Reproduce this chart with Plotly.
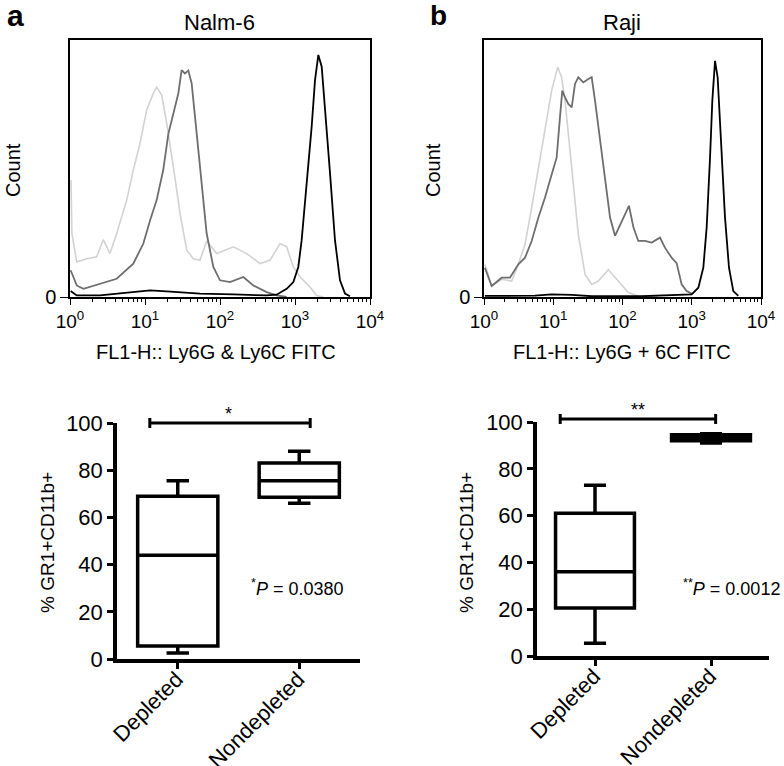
import plotly.graph_objects as go

W, H = 784, 766
FONT = "Liberation Sans, Arial, Helvetica, sans-serif"

# ---------------- Histogram data (FL1-H intensity, relative count) ----------------
# Panel a: Nalm-6
a_light_x = [1.03, 1.06, 1.23, 1.67, 2.27, 2.78, 3.41, 4.19, 5.70, 6.98, 8.57, 10.5, 12.9, 14.3, 16.7,
             19.5, 23.9, 29.3, 36.0, 44.1, 54.1, 66.4, 90.4, 151, 227, 341, 464, 631, 774, 951, 1167,
             1585, 1945, 2388]
a_light_y = [45.5, 24.7, 13.6, 14.9, 15.6, 22.3, 16.9, 24.7, 37.7, 49.4, 59.7, 72.7, 79.2, 81.6, 78.6,
             67.5, 50.6, 32.5, 18.2, 14.9, 14.3, 21.8, 16.9, 19.5, 16.9, 13.0, 14.3, 20.8, 19.5, 11.7,
             7.8, 3.9, 0.6, 0.0]
a_dark_x = [1.02, 1.23, 1.51, 2.51, 4.19, 6.98, 9.51, 11.7, 14.3, 17.5, 20.5, 23.9, 27.8, 30.8, 34.1,
            37.8, 41.9, 48.9, 57.0, 66.4, 81.5, 100, 136, 205, 278, 419, 570, 774]
a_dark_y = [10.4, 4.5, 3.2, 5.2, 7.1, 13.0, 20.8, 29.9, 37.7, 49.4, 63.6, 71.4, 79.2, 88.3, 87.0,
            88.1, 83.1, 63.6, 44.2, 24.7, 11.7, 6.5, 5.8, 7.8, 4.5, 1.9, 0.6, 0.0]
a_black_x = [1.02, 1.23, 2.51, 6.98, 11.7, 19.5, 54.1, 151, 419, 570, 774, 951, 1107, 1227, 1432,
             1667, 1849, 2047, 2270, 2512, 2931, 3412, 3981, 4645, 5408]
a_black_y = [2.3, 0.6, 0.6, 1.9, 2.6, 2.2, 1.3, 1.0, 0.6, 0.9, 3.2, 5.8, 11.7, 22.1, 42.9,
             66.2, 84.4, 94.2, 89.6, 74.0, 48.1, 22.1, 6.5, 1.3, 0.3]

# Panel b: Raji
b_light_x = [1.03, 1.29, 1.80, 2.51, 3.13, 3.91, 4.88, 6.10, 7.60, 9.48, 11.6, 13.2, 14.8, 18.5, 23.0,
             28.8, 35.9, 44.8, 62.4, 87.1, 121, 169, 329]
b_light_y = [12.7, 4.3, 6.9, 6.2, 12.7, 20.5, 34.8, 50.4, 64.7, 80.3, 89.4, 85.5, 76.4, 50.4, 24.4,
             8.8, 4.9, 6.2, 10.6, 6.2, 1.7, 0.4, 0.0]
b_dark_x = [1.03, 1.29, 1.80, 2.37, 3.13, 3.91, 4.88, 6.10, 7.60, 9.48, 11.2, 12.5, 13.5, 14.8, 16.5,
            18.5, 20.6, 23.0, 27.2, 32.1, 35.9, 40.1, 47.3, 55.8, 66.1, 78.0, 97.3, 124, 144, 169,
            211, 264, 348, 410, 512, 605, 714, 843, 995]
b_dark_y = [11.4, 4.3, 7.5, 7.5, 12.7, 15.3, 21.8, 30.9, 38.7, 47.8, 54.3, 69.9, 80.3, 77.7, 75.1,
            73.8, 82.9, 85.5, 83.5, 84.8, 85.5, 76.4, 62.1, 46.5, 30.9, 23.8, 29.6, 35.5, 27.0, 21.8,
            21.8, 21.2, 23.1, 19.2, 15.3, 13.2, 4.9, 2.3, 1.3]
b_black_x = [1.03, 5.45, 9.48, 18.5, 35.9, 189, 998, 1245, 1469, 1641, 1837, 1982, 2168, 2366, 2643,
             3020, 3451, 3981, 4699]
b_black_y = [0.4, 0.5, 1.0, 0.8, 0.3, 0.3, 1.0, 3.6, 11.4, 27.0, 54.3, 76.4, 91.9, 85.5, 60.9,
             31.0, 11.4, 2.3, 0.4]

# ---------------- Box plot data (% GR1+CD11b+) ----------------
groups = ["Depleted", "Nondepleted"]
a_q1 = [5.5, 68.5]
a_median = [44.0, 75.5]
a_q3 = [69.0, 83.0]
a_low = [2.5, 66.0]
a_high = [75.5, 88.0]

b_q1 = [20.5, 92.0]
b_median = [36.0, 93.5]
b_q3 = [61.0, 94.5]
b_low = [5.5, 91.0]
b_high = [73.0, 95.0]

hist_ticks = [1, 10, 100, 1000, 10000]
hist_ticktext = ["10<sup>0</sup>", "10<sup>1</sup>", "10<sup>2</sup>", "10<sup>3</sup>", "10<sup>4</sup>"]
minor_ticks = [m * 10 ** d for d in range(4) for m in range(2, 10)]
box_yticks = [0, 20, 40, 60, 80, 100]

LIGHT = "#d2d2d2"
DARK = "#6e6e6e"
BLACK = "#000000"


def px(x):
    return x / W


def py(y):
    return 1 - y / H


fig = go.Figure()


def add_hist(xa, ya, lx, ly, dx, dy, bx, by):
    for xs, ys, c, w in [(lx, ly, LIGHT, 1.6), (dx, dy, DARK, 1.8), (bx, by, BLACK, 1.8)]:
        fig.add_trace(go.Scatter(x=xs, y=ys, mode="lines", line=dict(color=c, width=w),
                                 xaxis=xa, yaxis=ya, showlegend=False, hoverinfo="skip"))


add_hist("x", "y", a_light_x, a_light_y, a_dark_x, a_dark_y, a_black_x, a_black_y)
add_hist("x2", "y2", b_light_x, b_light_y, b_dark_x, b_dark_y, b_black_x, b_black_y)


def add_box(xa, ya, q1, med, q3, lo, hi, width):
    fig.add_trace(go.Box(x=groups, q1=q1, median=med, q3=q3, lowerfence=lo, upperfence=hi,
                         width=width, whiskerwidth=0.28, fillcolor="white", boxpoints=False,
                         line=dict(color="black", width=3.5),
                         xaxis=xa, yaxis=ya, showlegend=False, hoverinfo="skip"))


add_box("x3", "y3", a_q1, a_median, a_q3, a_low, a_high, 0.66)
add_box("x4", "y4", b_q1, b_median, b_q3, b_low, b_high, 0.68)

# domains (pixel geometry of the reference)
dom_hx_a = [px(70), px(370)]
dom_hx_b = [px(484), px(761)]
dom_hy = [py(297), py(40)]
dom_bx_a = [px(117), px(360)]
dom_by_a = [py(659), py(423)]
dom_bx_b = [px(537), px(769)]
dom_by_b = [py(656), py(422)]

hist_x_common = dict(type="log", range=[0, 4], tickvals=hist_ticks, ticktext=hist_ticktext,
                     ticks="outside", ticklen=6, tickwidth=1.3, tickcolor="black",
                     showline=True, linecolor="black", linewidth=1.5, mirror=True,
                     showgrid=False, zeroline=False, automargin=False,
                     tickfont=dict(family=FONT, size=19, color="black"),
                     minor=dict(tickmode="array", tickvals=minor_ticks, ticks="outside",
                                ticklen=3, tickwidth=1, tickcolor="black", showgrid=False))
hist_y_common = dict(range=[0, 100], tickvals=[0], ticktext=["0"], ticks="outside", ticklen=8,
                     tickwidth=1.3, tickcolor="black", showline=True, linecolor="black",
                     linewidth=1.5, mirror=True, showgrid=False, zeroline=False, automargin=False,
                     tickfont=dict(family=FONT, size=20, color="black"))
box_x_common = dict(type="category", range=[-0.5, 1.5], ticks="outside", ticklen=6, tickwidth=3,
                    tickcolor="black", showline=True, linecolor="black", linewidth=3.5,
                    showgrid=False, zeroline=False, tickangle=-45, automargin=False,
                    ticklabelstandoff=-11, ticklabelshift=-1,
                    tickfont=dict(family=FONT, size=22, color="black"))
box_y_common = dict(range=[0, 100], tickvals=box_yticks, ticks="outside", ticklen=6, tickwidth=3,
                    tickcolor="black", showline=True, linecolor="black", linewidth=3.5,
                    showgrid=False, zeroline=False, automargin=False,
                    tickfont=dict(family=FONT, size=22, color="black"))

fig.update_layout(
    width=W, height=H, margin=dict(l=0, r=0, t=0, b=0, autoexpand=False),
    paper_bgcolor="white", plot_bgcolor="white", showlegend=False,
    font=dict(family=FONT, color="black"),
    boxmode="overlay",
    xaxis=dict(domain=dom_hx_a, anchor="y", **hist_x_common),
    yaxis=dict(domain=dom_hy, anchor="x", **hist_y_common),
    xaxis2=dict(domain=dom_hx_b, anchor="y2", **hist_x_common),
    yaxis2=dict(domain=dom_hy, anchor="x2", **hist_y_common),
    xaxis3=dict(domain=dom_bx_a, anchor="y3", **box_x_common),
    yaxis3=dict(domain=dom_by_a, anchor="x3", **box_y_common),
    xaxis4=dict(domain=dom_bx_b, anchor="y4", **box_x_common),
    yaxis4=dict(domain=dom_by_b, anchor="x4", **box_y_common),
)


def val_to_paper(v, dom, rng=(0, 100)):
    return dom[0] + (v - rng[0]) / (rng[1] - rng[0]) * (dom[1] - dom[0])


# significance bars
shapes = []
for xa, dom, y_val, x0, x1 in [("x3", dom_by_a, 100.0, -0.23, 1.09), ("x4", dom_by_b, 101.3, -0.30, 1.04)]:
    yp = val_to_paper(y_val, dom)
    cap = 5 / H
    shapes.append(dict(type="line", xref=xa, yref="paper", x0=x0, x1=x1, y0=yp, y1=yp,
                       line=dict(color="black", width=3)))
    for xc in (x0, x1):
        shapes.append(dict(type="line", xref=xa, yref="paper", x0=xc, x1=xc, y0=yp - cap, y1=yp + cap,
                           line=dict(color="black", width=3)))
fig.update_layout(shapes=shapes)

ann = []


def text(x, y, s, size, bold=False, angle=0, xanchor="center"):
    ann.append(dict(x=px(x), y=py(y), xref="paper", yref="paper", text=("<b>%s</b>" % s) if bold else s,
                    showarrow=False, textangle=angle, xanchor=xanchor, yanchor="middle",
                    font=dict(family=FONT, size=size, color="black")))


text(16, 16, "a", 30, bold=True)
text(438, 16, "b", 28, bold=True)
text(220, 23, "Nalm-6", 22)
text(622, 23, "Raji", 22)
text(13, 170, "Count", 20, angle=-90)
text(433, 170, "Count", 20, angle=-90)
text(216, 352, "FL1-H:: Ly6G &amp; Ly6C FITC", 20)
text(622, 352, "FL1-H:: Ly6G + 6C FITC", 20)
text(47, 543, "% GR1+CD11b+", 19, angle=-90)
text(466, 543, "% GR1+CD11b+", 19, angle=-90)
text(229, 414, "*", 18)
text(638, 410, "**", 18)
text(297, 587, "<sup>*</sup><i>P</i> = 0.0380", 18)
text(731, 587, "<sup>**</sup><i>P</i> = 0.0012", 18)
fig.update_layout(annotations=ann)

fig.write_html("out.html", config={"displayModeBar": False},
               post_script="document.body.style.margin='0px';document.body.style.overflow='hidden';")
